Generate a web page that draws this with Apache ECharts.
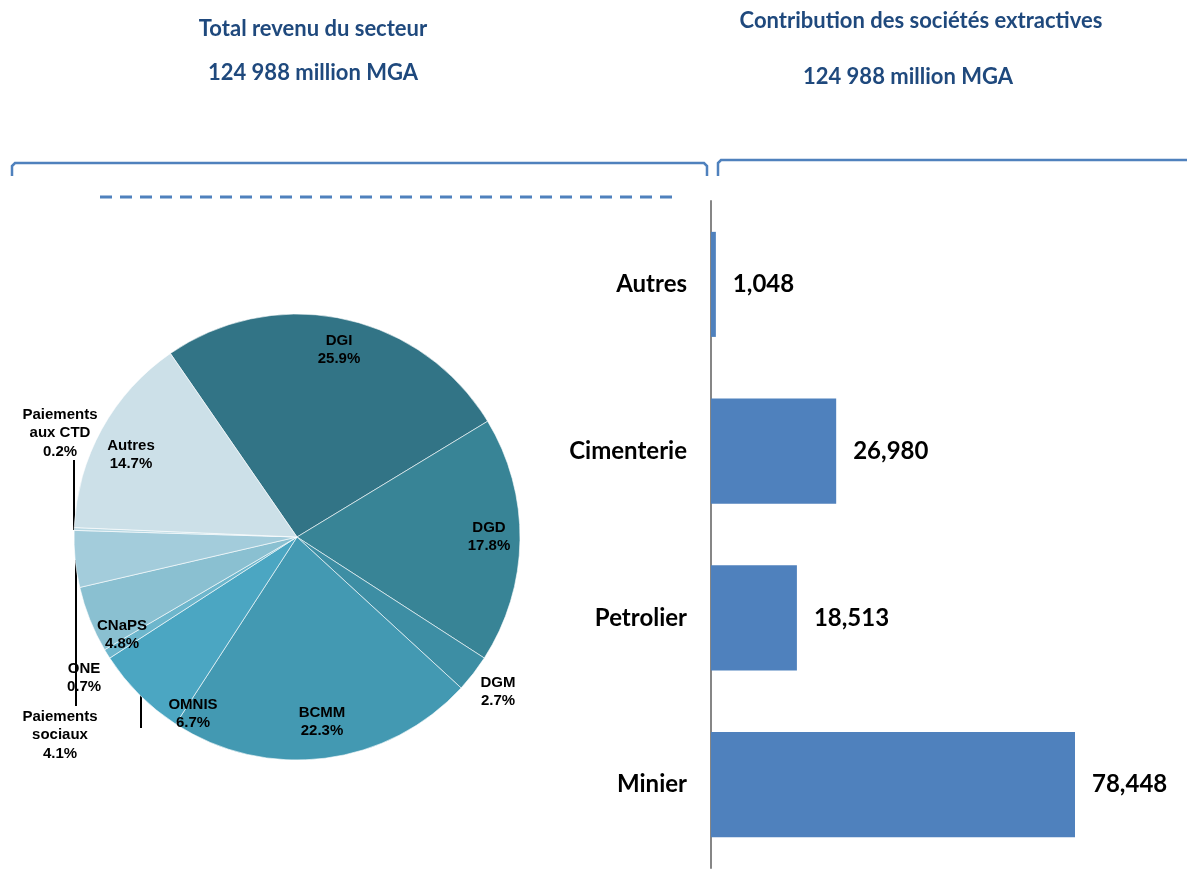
<!DOCTYPE html>
<html>
<head>
<meta charset="utf-8">
<script src="https://cdn.jsdelivr.net/npm/echarts@6/dist/echarts.min.js"></script>
<style>
  html, body { margin: 0; padding: 0; background: #fff; }
  #main { width: 1187px; height: 875px; }
</style>
</head>
<body>
<div id="main"></div>
<script>
// pie: revenue share by recipient (%)
const pieNames = ['DGI', 'DGD', 'DGM', 'BCMM', 'OMNIS', 'ONE', 'CNaPS', 'Paiements\nsociaux', 'Paiements\naux CTD', 'Autres'];
const pieShares = [25.9, 17.8, 2.7, 22.3, 6.7, 0.7, 4.8, 4.1, 0.2, 14.7];
const pieColors = ['#327486', '#388496', '#3D8EA4', '#4399B2', '#4BA6C2', '#6DB6CC', '#8AC0D1', '#A3CCDB', '#B8D8E3', '#CCE0E8'];

// bars: contribution by company type (million MGA)
const barCategories = ['Minier', 'Petrolier', 'Cimenterie', 'Autres'];
const barValues = [78448, 18513, 26980, 1048];

// label anchors (px) for the pie, same order as pieNames
const labelAt = [
  [339, 350], [489, 537], [498, 692], [322, 722], [193, 714],
  [84, 678], [122, 635], [60, 735], [60, 433], [131, 455]
];

const chart = echarts.init(document.getElementById('main'));
const blue = '#4F81BD';

function heading(text, x, y) {
  return {
    type: 'text', x: x, y: y,
    style: { text: text, fill: '#1F497D', font: 'bold 22px Lato', textAlign: 'center', textVerticalAlign: 'middle' }
  };
}

chart.setOption({
  animation: false,
  graphic: [
    heading('Total revenu du secteur', 313, 29),
    heading('124 988 million MGA', 313, 73),
    heading('Contribution des sociétés extractives', 921, 21),
    heading('124 988 million MGA', 908, 77),
    { type: 'polyline', shape: { points: [[12, 176], [12, 166], [15, 163], [704, 163], [707, 166], [707, 176]] }, style: { stroke: blue, lineWidth: 2.5, fill: null } },
    { type: 'polyline', shape: { points: [[718, 176], [718, 163], [721, 160], [1187, 160]] }, style: { stroke: blue, lineWidth: 2.5, fill: null } },
    { type: 'line', shape: { x1: 100, y1: 197, x2: 676, y2: 197 }, style: { stroke: blue, lineWidth: 3, lineDash: [12, 8] } },
    { type: 'line', shape: { x1: 74, y1: 460, x2: 74, y2: 530 }, style: { stroke: '#000', lineWidth: 2 } },
    { type: 'line', shape: { x1: 76, y1: 560, x2: 76, y2: 706 }, style: { stroke: '#000', lineWidth: 2 } },
    { type: 'line', shape: { x1: 141, y1: 695, x2: 141, y2: 728 }, style: { stroke: '#000', lineWidth: 2 } }
  ],
  grid: { left: 711, top: 201, width: 464, height: 667 },
  xAxis: {
    type: 'value', min: 0, max: 100000,
    show: false
  },
  yAxis: {
    type: 'category',
    data: barCategories,
    axisLine: { lineStyle: { color: '#868686', width: 2 } },
    axisTick: { show: false },
    axisLabel: { margin: 24, color: '#000', fontFamily: 'Lato', fontWeight: 'bold', fontSize: 24 }
  },
  series: [
    {
      type: 'pie',
      center: [297, 537],
      radius: 223,
      startAngle: 124.6,
      clockwise: true,
      avoidLabelOverlap: false,
      itemStyle: { borderColor: '#fff', borderWidth: 0.6 },
      label: {
        show: true, position: 'inside',
        formatter: p => p.name + '\n' + p.value.toFixed(1) + '%',
        color: '#000', fontFamily: 'Liberation Sans', fontWeight: 'bold', fontSize: 15, lineHeight: 18.5, align: 'center'
      },
      labelLine: { show: false },
      labelLayout: p => ({ x: labelAt[p.dataIndex][0], y: labelAt[p.dataIndex][1], align: 'center', verticalAlign: 'middle' }),
      data: pieNames.map((n, i) => ({ name: n, value: pieShares[i], itemStyle: { color: pieColors[i] } }))
    },
    {
      type: 'bar',
      data: barValues,
      barWidth: '63%',
      itemStyle: { color: blue },
      label: {
        show: true, position: 'right', distance: 17,
        formatter: p => p.value.toLocaleString('en-US'),
        color: '#000', fontFamily: 'Lato', fontWeight: 'bold', fontSize: 24
      }
    }
  ]
});
</script>
</body>
</html>
